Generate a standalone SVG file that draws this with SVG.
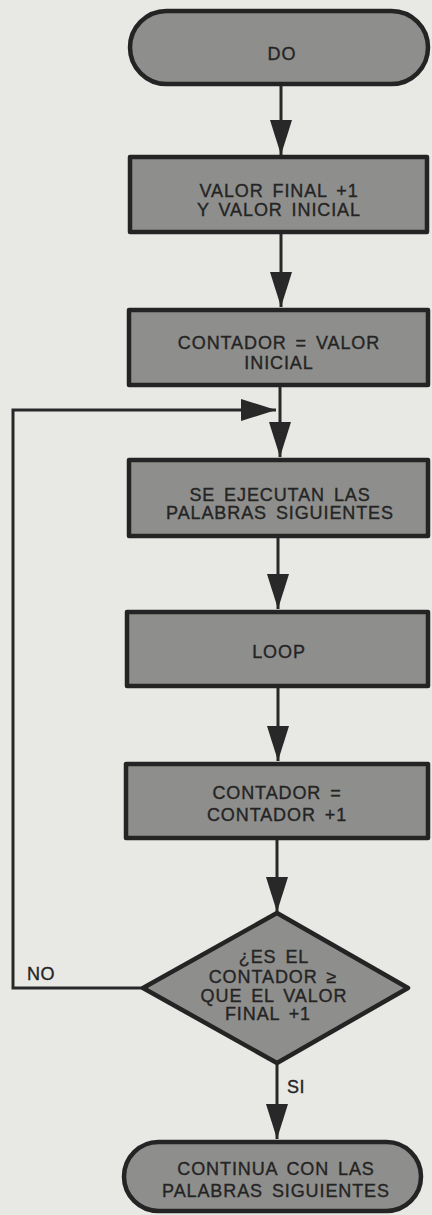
<svg xmlns="http://www.w3.org/2000/svg" width="432" height="1215" viewBox="0 0 432 1215">
<style>
.bg{fill:#e8e8e4}
.shape{fill:#8e8e8c;stroke:#242424;stroke-width:4.5;stroke-linejoin:round}
.t{font-family:"Liberation Sans",Arial,sans-serif;font-size:18px;fill:#242424;stroke:#242424;stroke-width:0.35;text-anchor:middle;letter-spacing:0.9px;word-spacing:3px}
.lbl{font-family:"Liberation Sans",Arial,sans-serif;font-size:18px;fill:#242424;stroke:#242424;stroke-width:0.35;letter-spacing:0.5px}
.c{fill:none;stroke:#282828;stroke-width:3}
</style>
<defs>
<marker id="ah" markerUnits="userSpaceOnUse" markerWidth="36" markerHeight="22" refX="35" refY="11" orient="auto">
<path d="M0,0 L35,11 L0,22 Z" fill="#282828"/>
</marker>
</defs>
<rect class="bg" x="0" y="0" width="432" height="1215"/>
<g id="connectors">
<line class="c" x1="281" y1="85" x2="281" y2="155" marker-end="url(#ah)"/>
<line class="c" x1="281" y1="233" x2="281" y2="307" marker-end="url(#ah)"/>
<line class="c" x1="280" y1="387" x2="280" y2="457" marker-end="url(#ah)"/>
<line class="c" x1="278" y1="538" x2="278" y2="609" marker-end="url(#ah)"/>
<line class="c" x1="278" y1="688" x2="278" y2="761" marker-end="url(#ah)"/>
<line class="c" x1="277" y1="840" x2="277" y2="912" marker-end="url(#ah)"/>
<line class="c" x1="277" y1="1063" x2="277" y2="1139" marker-end="url(#ah)"/>
<path class="c" d="M143,988 L13,988 L13,410 L276,410" marker-end="url(#ah)"/>
<text class="lbl" x="27" y="980">NO</text>
<text class="lbl" x="287" y="1093">SI</text>
</g>
<g id="n-do">
<rect class="shape" x="130" y="11" width="298" height="73" rx="36.5"/>
<text class="t" x="282" y="60">DO</text>
</g>
<g id="n-valores">
<rect class="shape" x="130" y="157" width="297" height="75"/>
<text class="t" x="279" y="197">VALOR FINAL +1</text>
<text class="t" x="279" y="216">Y VALOR INICIAL</text>
</g>
<g id="n-contador-inicial">
<rect class="shape" x="129" y="310" width="299" height="75"/>
<text class="t" x="279" y="349">CONTADOR = VALOR</text>
<text class="t" x="279" y="369">INICIAL</text>
</g>
<g id="n-ejecutan">
<rect class="shape" x="129" y="460" width="299" height="76"/>
<text class="t" x="280" y="501">SE EJECUTAN LAS</text>
<text class="t" x="280" y="519">PALABRAS SIGUIENTES</text>
</g>
<g id="n-loop">
<rect class="shape" x="127" y="612" width="301" height="74"/>
<text class="t" x="279" y="658">LOOP</text>
</g>
<g id="n-incremento">
<rect class="shape" x="126" y="764" width="302" height="74"/>
<text class="t" x="277" y="799">CONTADOR =</text>
<text class="t" x="277" y="821">CONTADOR +1</text>
</g>
<g id="n-decision">
<polygon class="shape" points="277,913 408,988 277,1063 143,988"/>
<text class="t" x="274" y="963">¿ES EL</text>
<text class="t" x="273" y="983">CONTADOR ≥</text>
<text class="t" x="274" y="1002">QUE EL VALOR</text>
<text class="t" x="268" y="1020">FINAL +1</text>
</g>
<g id="n-continua">
<rect class="shape" x="124" y="1142" width="297" height="69" rx="34.5"/>
<text class="t" x="276" y="1175">CONTINUA CON LAS</text>
<text class="t" x="276" y="1197">PALABRAS SIGUIENTES</text>
</g>
</svg>
